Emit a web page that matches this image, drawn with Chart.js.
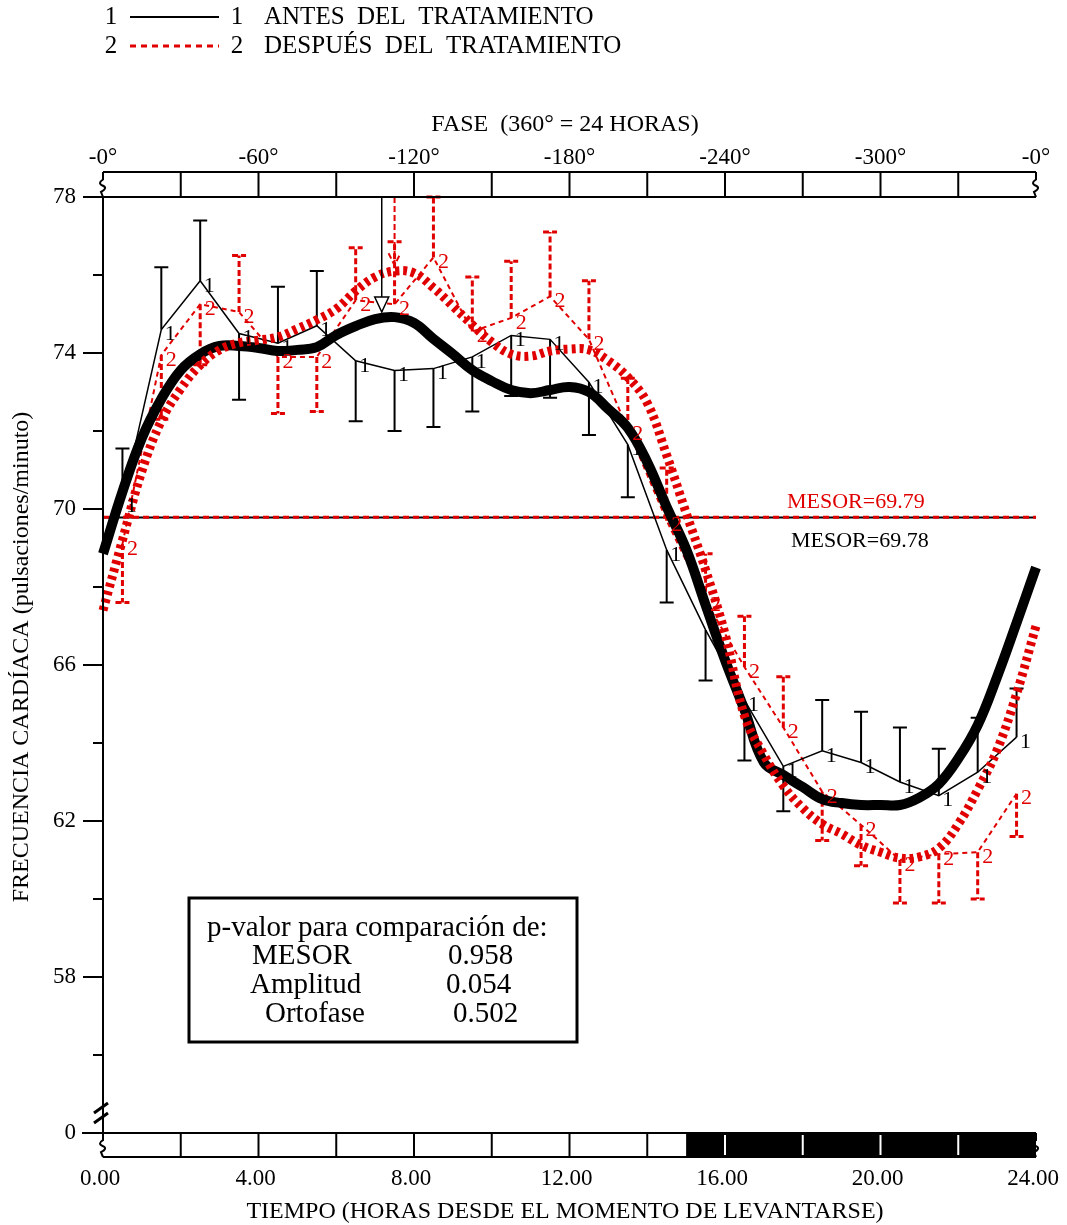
<!DOCTYPE html>
<html>
<head>
<meta charset="utf-8">
<script src="https://cdn.jsdelivr.net/npm/chart.js@4"></script>
<style>
  body { margin: 0; background: #fff; }
  canvas { display: block; }
</style>
</head>
<body>
<canvas id="cosinor" width="1067" height="1225"></canvas>
<script>
// hourly means (hours after waking up)
var hours = [0.5, 1.5, 2.5, 3.5, 4.5, 5.5, 6.5, 7.5, 8.5, 9.5, 10.5, 11.5,
             12.5, 13.5, 14.5, 15.5, 16.5, 17.5, 18.5, 19.5, 20.5, 21.5, 22.5, 23.5];
var before = [70.2, 74.6, 75.85, 74.5, 74.25, 74.7, 73.8, 73.55, 73.6, 73.9, 74.45, 74.35,
              73.25, 71.65, 68.95, 66.9, 65.1, 63.4, 63.8, 63.5, 63.0, 62.65, 63.25, 64.15];
var beforeBar = [71.55, 76.2, 77.4, 72.8, 75.7, 76.1, 72.25, 72.0, 72.1, 72.5, 72.9, 72.85,
                 71.9, 70.3, 67.6, 65.6, 63.55, 62.25, 65.1, 64.8, 64.4, 63.85, 64.65, 65.4];
var after = [69.1, 73.95, 75.25, 75.05, 73.9, 73.9, 75.35, 75.25, 76.45, 74.55, 74.9, 75.45,
             74.35, 72.05, 69.7, 67.65, 65.95, 64.4, 62.75, 61.9, 61.0, 61.15, 61.2, 62.7];
var afterBar = [67.6, 72.3, 73.7, 76.5, 72.45, 72.5, 76.7, 76.85, 78.0, 75.95, 76.35, 77.1,
                75.85, 73.35, 71.05, 68.85, 67.25, 65.7, 61.5, 60.85, 59.9, 59.9, 60.0, 61.6];

// fitted curves
var fitHours = [0, 0.5, 1, 1.5, 2, 2.5, 3, 3.5, 4, 4.5, 5, 5.5, 6, 6.5, 7, 7.5, 8, 8.5, 9, 9.5,
                10, 10.5, 11, 11.5, 12, 12.5, 13, 13.5, 14, 14.5, 15, 15.5, 16, 16.5, 17, 17.5,
                18, 18.5, 19, 19.5, 20, 20.5, 21, 21.5, 22, 22.5, 23, 23.5, 24];
var fitBefore = [68.85, 70.44, 71.82, 72.82, 73.56, 73.97, 74.18, 74.18, 74.13, 74.05, 74.08, 74.15,
                 74.46, 74.69, 74.87, 74.92, 74.77, 74.36, 73.97, 73.56, 73.28, 73.05, 72.97, 73.05,
                 73.13, 73.0, 72.56, 72.08, 71.2, 70.05, 68.97, 67.54, 66.13, 64.85, 63.5, 63.18,
                 62.87, 62.56, 62.46, 62.41, 62.41, 62.41, 62.6, 62.95, 63.6, 64.46, 65.7, 67.08, 68.5];
var fitAfter = [67.4, 69.2, 70.97, 72.26, 73.08, 73.69, 74.08, 74.26, 74.33, 74.41, 74.62, 74.85,
                75.13, 75.59, 75.95, 76.1, 76.05, 75.67, 75.2, 74.72, 74.28, 73.97, 73.92, 74.05,
                74.1, 74.08, 73.8, 73.38, 72.72, 71.38, 69.9, 68.44, 66.8, 64.7, 63.7, 62.9,
                62.33, 61.92, 61.67, 61.38, 61.2, 61.05, 61.08, 61.3, 61.92, 62.8, 63.82, 65.26, 67.0];

var mesor = [69.78, 69.79];
var acroHours = [7.17, 7.5];
var acroTips = [75.05, 76.25];

var yTicks = [78, 76, 74, 72, 70, 68, 66, 64, 62, 60, 58, 56, 54];
var yTickLabels = ['78', '', '74', '', '70', '', '66', '', '62', '', '58', '', '0'];
var xTicks = [0, 4, 8, 12, 16, 20, 24];
var xTickLabels = ['0.00', '4.00', '8.00', '12.00', '16.00', '20.00', '24.00'];
var phaseLabels = ['-0°', '-60°', '-120°', '-180°', '-240°', '-300°', '-0°'];
var barEdges = [0, 2, 4, 6, 8, 10, 12, 14, 16, 18, 20, 22, 24];
var darkFrom = 15;

var pValueRows = [['MESOR', '0.958'], ['Amplitud', '0.054'], ['Ortofase', '0.502']];

var RED = '#e10000';
var SERIF = '"Liberation Serif", "Times New Roman", serif';

function pts(xv, yv) {
  return xv.map(function(x, i) { return { x: x, y: yv[i] }; });
}

function squiggle(ctx, x, y0, y1) {
  var h = y1 - y0;
  ctx.beginPath();
  ctx.moveTo(x, y0);
  ctx.lineTo(x, y0 + h * 0.3);
  ctx.quadraticCurveTo(x - 6, y0 + h * 0.45, x, y0 + h * 0.55);
  ctx.quadraticCurveTo(x + 5, y0 + h * 0.65, x - 2, y0 + h * 0.8);
  ctx.lineTo(x, y1);
  ctx.stroke();
}

function errorBars(ctx, xs, ys, vals, ends, color, dash, width) {
  ctx.save();
  ctx.strokeStyle = color;
  ctx.lineWidth = width;
  ctx.setLineDash(dash);
  hours.forEach(function(h, i) {
    var x = xs.getPixelForValue(h);
    var y0 = ys.getPixelForValue(vals[i]);
    var y1 = ys.getPixelForValue(ends[i]);
    ctx.beginPath();
    ctx.moveTo(x, y0);
    ctx.lineTo(x, y1);
    ctx.moveTo(x - 7, y1);
    ctx.lineTo(x + 7, y1);
    ctx.stroke();
  });
  ctx.restore();
}

var decor = {
  id: 'decor',
  beforeDatasetsDraw: function(chart) {
    var ctx = chart.ctx, xs = chart.scales.x, ys = chart.scales.y;
    errorBars(ctx, xs, ys, before, beforeBar, '#000', [], 2);
    errorBars(ctx, xs, ys, after, afterBar, RED, [6, 3], 3);
  },
  afterDatasetsDraw: function(chart) {
    var ctx = chart.ctx, xs = chart.scales.x, ys = chart.scales.y;
    var left = xs.getPixelForValue(0), right = xs.getPixelForValue(24);
    var top = ys.getPixelForValue(78), bottom = ys.getPixelForValue(54);

    ctx.save();
    ctx.textBaseline = 'middle';

    // point labels
    ctx.font = '22px ' + SERIF;
    ctx.textAlign = 'center';
    hours.forEach(function(h, i) {
      ctx.fillStyle = '#000';
      ctx.fillText('1', xs.getPixelForValue(h) + 9, ys.getPixelForValue(before[i]) + 5);
      ctx.fillStyle = RED;
      ctx.fillText('2', xs.getPixelForValue(h) + 10, ys.getPixelForValue(after[i]) + 5);
    });

    // acrophase markers
    ctx.lineWidth = 1.5;
    ctx.strokeStyle = '#000';
    var ax = xs.getPixelForValue(acroHours[0]), ay = ys.getPixelForValue(acroTips[0]);
    ctx.beginPath();
    ctx.moveTo(ax, top);
    ctx.lineTo(ax, ay);
    ctx.stroke();
    ctx.beginPath();
    ctx.moveTo(ax - 7, ay - 15);
    ctx.lineTo(ax + 7, ay - 15);
    ctx.lineTo(ax, ay);
    ctx.closePath();
    ctx.fillStyle = '#fff';
    ctx.fill();
    ctx.stroke();
    ctx.strokeStyle = RED;
    ctx.lineWidth = 2;
    ctx.setLineDash([6, 3]);
    ax = xs.getPixelForValue(acroHours[1]);
    ay = ys.getPixelForValue(acroTips[1]);
    ctx.beginPath();
    ctx.moveTo(ax, top);
    ctx.lineTo(ax, ay);
    ctx.moveTo(ax - 6, ay - 12);
    ctx.lineTo(ax, ay);
    ctx.lineTo(ax + 6, ay - 12);
    ctx.stroke();
    ctx.setLineDash([]);

    // mesor labels
    ctx.font = '22px ' + SERIF;
    ctx.textAlign = 'left';
    ctx.textBaseline = 'alphabetic';
    ctx.fillStyle = RED;
    ctx.fillText('MESOR=' + mesor[1].toFixed(2), 787, 508);
    ctx.fillStyle = '#000';
    ctx.fillText('MESOR=' + mesor[0].toFixed(2), 791, 547);

    // y axis
    ctx.strokeStyle = '#000';
    ctx.lineWidth = 2;
    ctx.beginPath();
    ctx.moveTo(left, top);
    ctx.lineTo(left, bottom);
    ctx.stroke();
    ctx.font = '23px ' + SERIF;
    ctx.textAlign = 'right';
    ctx.textBaseline = 'middle';
    yTicks.forEach(function(v, i) {
      var y = ys.getPixelForValue(v);
      var len = yTickLabels[i] ? 20 : 10;
      ctx.beginPath();
      ctx.moveTo(left - len, y);
      ctx.lineTo(left, y);
      ctx.stroke();
      if (yTickLabels[i]) ctx.fillText(yTickLabels[i], left - 27, y);
    });
    // axis break
    ctx.lineWidth = 3;
    ctx.beginPath();
    ctx.moveTo(left - 9, bottom - 20);
    ctx.lineTo(left + 5, bottom - 30);
    ctx.moveTo(left - 9, bottom - 10);
    ctx.lineTo(left + 5, bottom - 20);
    ctx.stroke();

    // phase bar (top)
    var pTop = top - 25;
    ctx.lineWidth = 2;
    ctx.beginPath();
    ctx.moveTo(left, pTop);
    ctx.lineTo(right, pTop);
    ctx.moveTo(left - 20, top);
    ctx.lineTo(right, top);
    barEdges.slice(1, -1).forEach(function(h) {
      var x = xs.getPixelForValue(h);
      ctx.moveTo(x, pTop);
      ctx.lineTo(x, top);
    });
    ctx.stroke();
    squiggle(ctx, left, pTop, top);
    squiggle(ctx, right, pTop, top);
    ctx.fillStyle = '#000';
    ctx.textAlign = 'center';
    ctx.font = '23px ' + SERIF;
    xTicks.forEach(function(h, i) {
      ctx.fillText(phaseLabels[i], xs.getPixelForValue(h), pTop - 14);
    });
    ctx.font = '24px ' + SERIF;
    ctx.fillText('FASE  (360° = 24 HORAS)', 565, 125);

    // light/dark bar (bottom)
    var bBot = bottom + 24;
    var xd = xs.getPixelForValue(darkFrom);
    ctx.fillRect(xd, bottom, right - xd, 24);
    ctx.lineWidth = 2;
    ctx.beginPath();
    ctx.moveTo(left - 21, bottom);
    ctx.lineTo(right, bottom);
    ctx.moveTo(left, bBot);
    ctx.lineTo(right, bBot);
    ctx.stroke();
    barEdges.slice(1, -1).forEach(function(h) {
      var x = xs.getPixelForValue(h);
      ctx.strokeStyle = h > darkFrom ? '#fff' : '#000';
      ctx.beginPath();
      ctx.moveTo(x, h > darkFrom ? bottom + 2 : bottom);
      ctx.lineTo(x, h > darkFrom ? bBot - 2 : bBot);
      ctx.stroke();
    });
    ctx.strokeStyle = '#000';
    squiggle(ctx, left, bottom, bBot);
    squiggle(ctx, right, bottom, bBot);
    ctx.font = '23px ' + SERIF;
    xTicks.forEach(function(h, i) {
      ctx.fillText(xTickLabels[i], xs.getPixelForValue(h) - 3, bBot + 22);
    });
    ctx.font = '24px ' + SERIF;
    ctx.fillText('TIEMPO (HORAS DESDE EL MOMENTO DE LEVANTARSE)', 565, 1212);

    // y title
    ctx.save();
    ctx.translate(22, 657);
    ctx.rotate(-Math.PI / 2);
    ctx.fillText('FRECUENCIA CARDÍACA (pulsaciones/minuto)', 0, 0);
    ctx.restore();

    // legend
    ctx.font = '25px ' + SERIF;
    ctx.textAlign = 'center';
    ctx.fillStyle = '#000';
    ctx.fillText('1', 111, 17);
    ctx.fillText('1', 237, 17);
    ctx.fillText('2', 111, 46);
    ctx.fillText('2', 237, 46);
    ctx.textAlign = 'left';
    ctx.fillText('ANTES  DEL  TRATAMIENTO', 264, 17);
    ctx.fillText('DESPUÉS  DEL  TRATAMIENTO', 264, 46);
    ctx.lineWidth = 2;
    ctx.beginPath();
    ctx.moveTo(130, 17);
    ctx.lineTo(219, 17);
    ctx.stroke();
    ctx.strokeStyle = RED;
    ctx.lineWidth = 3;
    ctx.setLineDash([6, 5]);
    ctx.beginPath();
    ctx.moveTo(130, 46);
    ctx.lineTo(219, 46);
    ctx.stroke();
    ctx.setLineDash([]);

    // p-value box
    ctx.strokeStyle = '#000';
    ctx.lineWidth = 3;
    ctx.fillStyle = '#fff';
    ctx.fillRect(189, 898, 388, 144);
    ctx.strokeRect(189, 898, 388, 144);
    ctx.fillStyle = '#000';
    ctx.font = '29px ' + SERIF;
    ctx.textBaseline = 'alphabetic';
    ctx.fillText('p-valor para comparación de:', 207, 936);
    var rowX = [[252, 448], [250, 446], [265, 453]];
    pValueRows.forEach(function(r, i) {
      ctx.fillText(r[0], rowX[i][0], 964 + i * 29);
      ctx.fillText(r[1], rowX[i][1], 964 + i * 29);
    });

    ctx.restore();
  }
};

var chart = new Chart(document.getElementById('cosinor'), {
  type: 'line',
  data: {
    datasets: [
      {
        // fitted curve after treatment
        data: pts(fitHours, fitAfter),
        borderColor: RED, borderWidth: 9, borderDash: [4, 4],
        pointRadius: 0, tension: 0.4, order: 0, clip: false
      },
      {
        // fitted curve before treatment
        data: pts(fitHours, fitBefore),
        borderColor: '#000', borderWidth: 10,
        pointRadius: 0, tension: 0.4, order: 1, clip: false
      },
      {
        data: pts(hours, before),
        borderColor: '#000', borderWidth: 1.5,
        pointRadius: 0, tension: 0, order: 2
      },
      {
        data: pts(hours, after),
        borderColor: RED, borderWidth: 2, borderDash: [5, 4],
        pointRadius: 0, tension: 0, order: 3
      },
      {
        data: pts([0, 24], [mesor[1], mesor[1]]),
        borderColor: RED, borderWidth: 3, borderDash: [6, 4],
        pointRadius: 0, order: 4
      },
      {
        data: pts([0, 24], [mesor[0], mesor[0]]),
        borderColor: '#000', borderWidth: 2,
        pointRadius: 0, order: 5
      }
    ]
  },
  options: {
    responsive: false,
    animation: false,
    layout: { padding: { left: 103, right: 31, top: 197, bottom: 92 } },
    scales: {
      x: { type: 'linear', min: 0, max: 24, display: false },
      y: { type: 'linear', min: 54, max: 78, display: false }
    },
    plugins: {
      legend: { display: false },
      tooltip: { enabled: false }
    }
  },
  plugins: [decor]
});
</script>
</body>
</html>
